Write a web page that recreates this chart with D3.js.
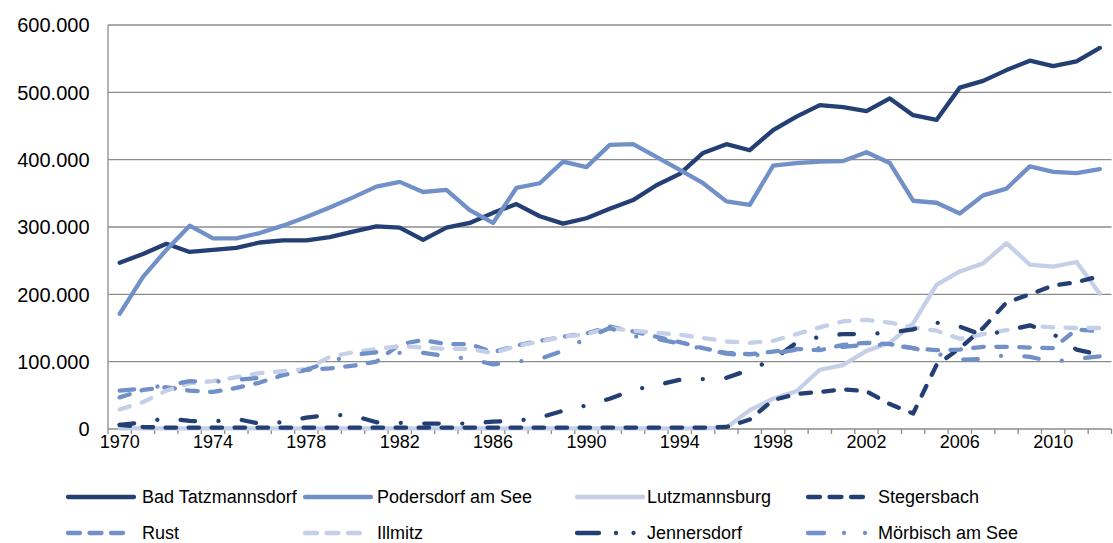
<!DOCTYPE html>
<html>
<head>
<meta charset="utf-8">
<script src="https://cdn.jsdelivr.net/npm/d3@7"></script>
<style>
  body { margin: 0; background: #fff; }
  text { font-family: "Liberation Sans", Arial, sans-serif; fill: #000; }
</style>
</head>
<body>
<svg id="chart" width="1113" height="543"></svg>
<script>
// years on the x axis
const years = [1970,1971,1972,1973,1974,1975,1976,1977,1978,1979,
  1980,1981,1982,1983,1984,1985,1986,1987,1988,1989,
  1990,1991,1992,1993,1994,1995,1996,1997,1998,1999,
  2000,2001,2002,2003,2004,2005,2006,2007,2008,2009,
  2010,2011,2012];

// overnight stays per resort
const badTatzmannsdorf = [247000,260000,275000,263000,266000,269000,277000,280000,280000,285000,
  293000,301000,299000,281000,299000,306000,321000,334000,316000,305000,
  313000,327000,340000,362000,379000,410000,423000,414000,444000,464000,
  481000,478000,472000,491000,466000,459000,507000,517000,533000,547000,
  539000,546000,566000];
const podersdorf = [171000,226000,266000,302000,283000,283000,291000,302000,315000,329000,
  344000,360000,367000,352000,355000,325000,306000,358000,365000,397000,
  389000,422000,423000,404000,385000,365000,338000,333000,391000,395000,
  397000,398000,411000,395000,339000,336000,320000,347000,357000,390000,
  382000,380000,386000];
const lutzmannsburg = [1000,1000,1000,1000,1000,1000,1000,1000,1000,1000,
  1000,1000,1000,1000,1000,1000,1000,1000,1000,1000,
  1000,1000,1000,1000,1000,1000,2000,28000,45000,56000,
  88000,95000,116000,128000,157000,214000,234000,246000,276000,244000,
  241000,248000,201000];
const stegersbach = [6000,3000,2000,2000,2000,2000,2000,2000,2000,2000,
  2000,2000,2000,2000,2000,2000,2000,2000,2000,2000,
  2000,2000,2000,2000,2000,2000,3000,14000,43000,52000,
  55000,59000,56000,37000,23000,95000,120000,150000,188000,200000,
  213000,218000,227000];
const rust = [47000,58000,62000,57000,55000,61000,69000,80000,88000,90000,
  94000,100000,126000,132000,126000,126000,114000,124000,131000,137000,
  142000,152000,145000,137000,129000,120000,113000,111000,115000,119000,
  117000,125000,128000,126000,120000,117000,118000,122000,122000,121000,
  120000,148000,145000];
const illmitz = [29000,40000,57000,68000,71000,77000,83000,86000,89000,107000,
  114000,119000,123000,121000,119000,119000,113000,123000,130000,137000,
  141000,150000,146000,143000,140000,135000,130000,128000,131000,141000,
  151000,160000,162000,158000,151000,146000,134000,141000,147000,153000,
  151000,150000,150000];
const jennersdorf = [6000,10000,16000,12000,11000,15000,8000,10000,17000,21000,
  20000,10000,9000,8000,8000,8000,11000,12000,17000,27000,
  35000,45000,58000,65000,73000,74000,76000,88000,103000,128000,
  137000,141000,141000,143000,148000,158000,152000,139000,146000,154000,
  141000,118000,110000];
const moerbisch = [57000,60000,65000,71000,70000,73000,76000,80000,88000,100000,
  110000,114000,113000,113000,108000,104000,96000,100000,104000,116000,
  135000,150000,138000,134000,127000,119000,112000,109000,112000,118000,
  120000,122000,125000,125000,120000,112000,103000,104000,110000,107000,
  100000,104000,108000];

const seriesNames = ["Bad Tatzmannsdorf","Podersdorf am See","Lutzmannsburg","Stegersbach",
  "Rust","Illmitz","Jennersdorf","Mörbisch am See"];
const seriesValues = [badTatzmannsdorf, podersdorf, lutzmannsburg, stegersbach,
  rust, illmitz, jennersdorf, moerbisch];
const yTicks = [0,100000,200000,300000,400000,500000,600000];
const xLabelYears = [1970,1974,1978,1982,1986,1990,1994,1998,2002,2006,2010];

// colours and dash styles
const dark = "#243f73", mid = "#7290c8", light = "#c6cfe8";
const colors = [dark, mid, light, dark, mid, light, dark, mid];
const dashes = [null, null, null, "10.5,12.5", "10.5,12.5", "10.5,12.5", "14.5,23.5,0.01,23.5", "14.5,23.5,0.01,23.5"];
const legendDashes = [null, null, null, "12,9.5", "12,9.5", "12,9.5", "22,17,0.01,17.5,0.01,40", "16,20,0.01,21,0.01,40"];
// sample length per legend entry
const legendLen = [66, 66, 66, 55, 55, 55, 60, 62];

const svg = d3.select("#chart");
const plotLeft = 108, plotRight = 1111.5, plotTop = 25, plotBottom = 429;

const x = d3.scaleBand().domain(years).range([plotLeft, plotRight]).padding(0);
const y = d3.scaleLinear().domain([0, 600000]).range([plotBottom, plotTop]);
const de = d3.formatLocale({decimal: ",", thousands: ".", grouping: [3], currency: ["", "€"]});
const fmt = de.format(",");

// gridlines
svg.append("g")
  .selectAll("line")
  .data(yTicks)
  .enter()
  .append("line")
  .attr("x1", plotLeft)
  .attr("x2", plotRight)
  .attr("y1", d => y(d))
  .attr("y2", d => y(d))
  .attr("stroke", "#8c8c8c")
  .attr("stroke-width", 1.3);

// y axis line
svg.append("line")
  .attr("x1", plotLeft).attr("x2", plotLeft)
  .attr("y1", plotTop).attr("y2", plotBottom)
  .attr("stroke", "#8c8c8c")
  .attr("stroke-width", 1.3);

// y labels
svg.append("g")
  .selectAll("text")
  .data(yTicks)
  .enter()
  .append("text")
  .attr("x", 89.5)
  .attr("y", d => y(d))
  .attr("dy", "0.36em")
  .attr("text-anchor", "end")
  .style("font-size", "20px")
  .text(d => fmt(d));

// x tick marks at category boundaries
const boundaries = years.map(d => x(d)).concat([plotRight]);
svg.append("g")
  .selectAll("line")
  .data(boundaries)
  .enter()
  .append("line")
  .attr("x1", d => d).attr("x2", d => d)
  .attr("y1", plotBottom).attr("y2", plotBottom + 5)
  .attr("stroke", "#8c8c8c")
  .attr("stroke-width", 1.3);

// x labels
svg.append("g")
  .selectAll("text")
  .data(xLabelYears)
  .enter()
  .append("text")
  .attr("x", d => x(d) + x.bandwidth() / 2)
  .attr("y", 448)
  .attr("text-anchor", "middle")
  .style("font-size", "18px")
  .text(d => d);

// the lines
const line = d3.line()
  .x((d, i) => x(years[i]) + x.bandwidth() / 2)
  .y(d => y(d));

seriesValues.forEach((vals, k) => {
  svg.append("path")
    .attr("d", line(vals))
    .attr("fill", "none")
    .attr("stroke", colors[k])
    .attr("stroke-width", 4.3)
    .attr("stroke-linecap", "round")
    .attr("stroke-linejoin", "round")
    .attr("stroke-dasharray", dashes[k]);
});

// legend, 4 per row
const legX = [68, 305, 577, 808];
const legTextX = [142, 377, 647, 878];
const legY = [497, 533];

const leg = svg.append("g")
  .selectAll("g")
  .data(seriesNames)
  .enter()
  .append("g");

leg.append("line")
  .attr("x1", (d, i) => legX[i % 4])
  .attr("x2", (d, i) => legX[i % 4] + legendLen[i])
  .attr("y1", (d, i) => legY[Math.floor(i / 4)])
  .attr("y2", (d, i) => legY[Math.floor(i / 4)])
  .attr("stroke", (d, i) => colors[i])
  .attr("stroke-width", 4.3)
  .attr("stroke-linecap", "round")
  .attr("stroke-dasharray", (d, i) => legendDashes[i]);

leg.append("text")
  .attr("x", (d, i) => legTextX[i % 4])
  .attr("y", (d, i) => legY[Math.floor(i / 4)])
  .attr("dy", "0.36em")
  .style("font-size", "18px")
  .text(d => d);
</script>
</body>
</html>
